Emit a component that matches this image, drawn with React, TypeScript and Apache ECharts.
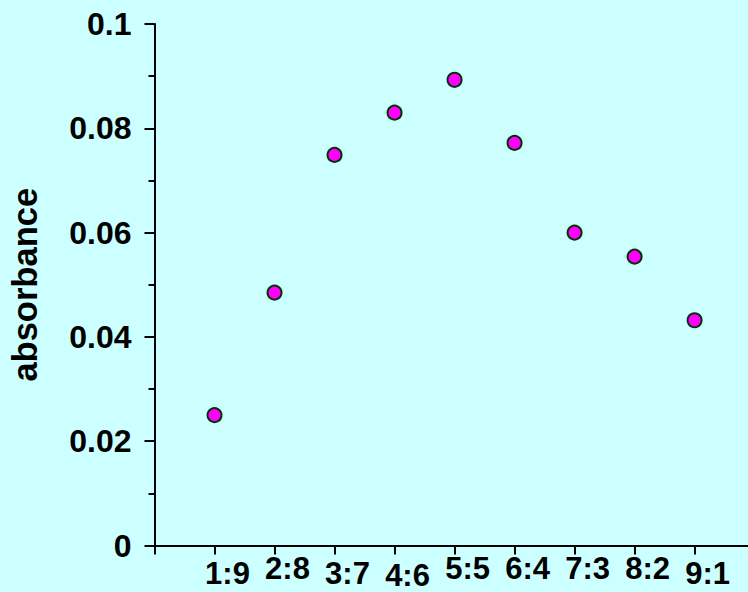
import React, { useEffect, useRef } from "react";
import * as echarts from "echarts";

const categories = ["1:9", "2:8", "3:7", "4:6", "5:5", "6:4", "7:3", "8:2", "9:1"];
const absorbance = [0.025, 0.0485, 0.0749, 0.083, 0.0893, 0.0772, 0.06, 0.0554, 0.0432];
const yTicks = [0, 0.02, 0.04, 0.06, 0.08, 0.1];
const labelDrop = [5, 0, 5, 7, 0, 0, 0, 0, 5];

const FONT = "'Liberation Sans', Arial, sans-serif";

export default function App() {
  const ref = useRef<HTMLDivElement>(null);
  useEffect(() => {
    document.body.style.margin = "0";
    const chart = echarts.init(ref.current!, null, { renderer: "svg" });
    const rich: Record<string, any> = {};
    labelDrop.forEach((d, i) => {
      rich["l" + i] = {
        fontSize: 31,
        fontWeight: "bold",
        fontFamily: FONT,
        color: "#000",
        padding: [d, 0, 0, 26],
      };
    });
    chart.setOption({
      animation: false,
      backgroundColor: "#CCFFFF",
      grid: {
        left: 154.5,
        right: 0,
        top: 24,
        bottom: 46.5,
        containLabel: false,
        outerBoundsMode: "none",
      },
      xAxis: {
        type: "value",
        min: 0,
        max: 9.89,
        interval: 1,
        splitLine: { show: false },
        axisLine: { show: true, lineStyle: { color: "#000", width: 2 } },
        axisTick: {
          show: true,
          length: 9,
          lineStyle: { color: "#000", width: 2 },
          customValues: [0, 1, 2, 3, 4, 5, 6, 7, 8, 9],
        },
        axisLabel: {
          show: true,
          margin: 7,
          customValues: categories.map((_, i) => i + 1),
          formatter: (v: number) => {
            const i = Math.round(v) - 1;
            if (i < 0 || i >= categories.length) return "";
            return "{l" + i + "|" + categories[i] + "}";
          },
          rich,
        },
      },
      yAxis: {
        type: "value",
        min: yTicks[0],
        max: yTicks[yTicks.length - 1],
        interval: 0.02,
        name: "absorbance",
        nameLocation: "middle",
        nameGap: 112,
        nameTextStyle: { fontSize: 34.5, fontWeight: "bold", fontFamily: FONT, color: "#000" },
        splitLine: { show: false },
        axisLine: { show: true, lineStyle: { color: "#000", width: 2 } },
        axisTick: { show: true, length: 10, lineStyle: { color: "#000", width: 2 } },
        minorTick: { show: true, splitNumber: 2, length: 6, lineStyle: { color: "#000", width: 2 } },
        axisLabel: {
          margin: 23,
          fontSize: 32,
          fontWeight: "bold",
          fontFamily: FONT,
          color: "#000",
          formatter: (v: number) => String(Number(v.toFixed(2))),
        },
      },
      series: [
        {
          type: "scatter",
          data: absorbance.map((v, i) => [i + 1, v]),
          symbol: "circle",
          symbolSize: 14,
          itemStyle: { color: "#FF00FF", borderColor: "#003300", borderWidth: 2, opacity: 1 },
        },
      ],
    });
    return () => chart.dispose();
  }, []);
  return <div ref={ref} style={{ width: 748, height: 592 }} />;
}
